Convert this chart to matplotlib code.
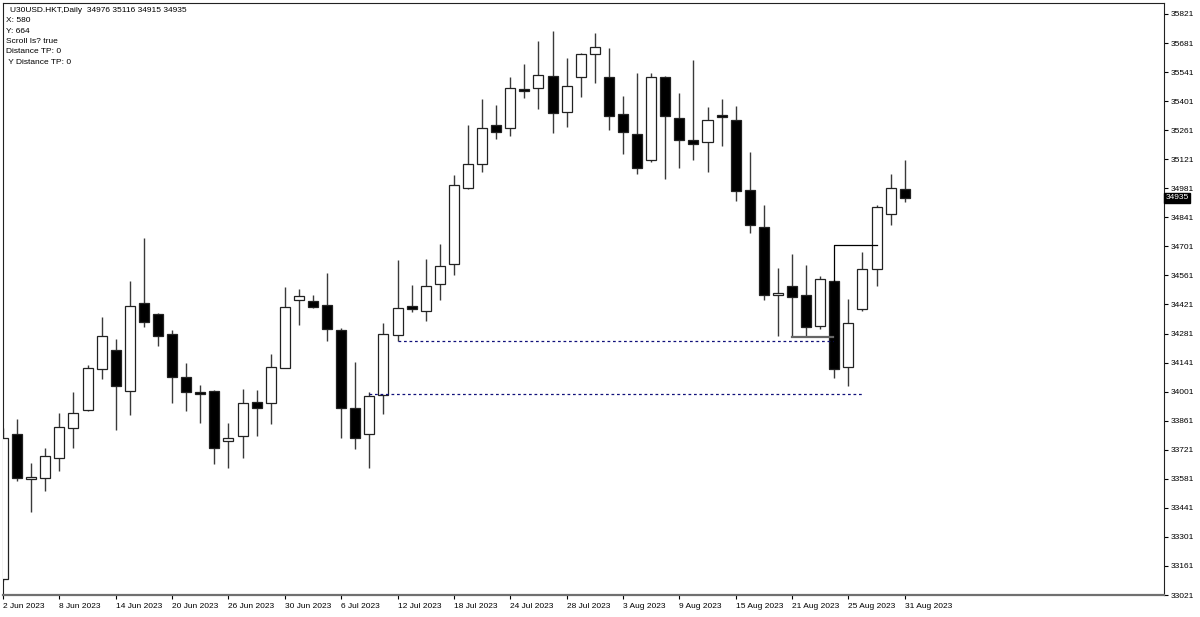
import matplotlib
matplotlib.use("Agg")
import matplotlib.pyplot as plt
import matplotlib.transforms as mtransforms

# daily candles, 2 Jun 2023 .. 31 Aug 2023 (one per weekday)
opens = [33098, 33799, 33580, 33587, 33682, 33826, 33914, 34110, 34201, 34002,
         34429, 34374, 34280, 34073, 34001, 34004, 33762, 33785, 33953, 33945,
         34116, 34442, 34437, 34418, 34297, 33921, 33796, 33985, 34272, 34416,
         34392, 34522, 34617, 34982, 35098, 35286, 35273, 35459, 35466, 35523,
         35348, 35516, 35627, 35519, 35337, 35244, 35115, 35515, 35321, 35212,
         35204, 35334, 35311, 34973, 34795, 34466, 34512, 34466, 34317, 34533,
         34119, 34397, 34593, 34857, 34976]
highs = [33824, 33871, 33655, 33728, 33897, 34001, 34128, 34362, 34253, 34532,
         34742, 34378, 34297, 34140, 34031, 34008, 33849, 34012, 34007, 34184,
         34504, 34496, 34469, 34574, 34309, 34143, 34001, 34333, 34633, 34517,
         34638, 34713, 35046, 35286, 35412, 35382, 35516, 35579, 35690, 35739,
         35608, 35632, 35731, 35656, 35426, 35536, 35536, 35523, 35442, 35600,
         35375, 35412, 35378, 35156, 34899, 34598, 34662, 34613, 34557, 34540,
         34448, 34675, 34899, 35050, 35116]
lows = [33088, 33571, 33422, 33523, 33619, 33731, 33908, 34062, 33816, 33888,
        34314, 34220, 33948, 33908, 33852, 33651, 33635, 33682, 33785, 33847,
        34113, 34321, 34402, 34244, 33780, 33727, 33635, 33892, 34244, 34386,
        34341, 34445, 34562, 34978, 35059, 35218, 35231, 35418, 35363, 35247,
        35276, 35423, 35490, 35260, 35144, 35050, 35110, 35026, 35077, 35119,
        35058, 35183, 34921, 34766, 34445, 34268, 34264, 34264, 34301, 34068,
        34028, 34389, 34512, 34802, 34915]
closes = [33776, 33584, 33592, 33691, 33831, 33897, 34116, 34267, 34028, 34415,
          34339, 34270, 34073, 33999, 33991, 33731, 33776, 33948, 33924, 34119,
          34408, 34464, 34410, 34304, 33924, 33780, 33980, 34277, 34403, 34397,
          34509, 34605, 34997, 35099, 35273, 35250, 35466, 35452, 35526, 35343,
          35476, 35629, 35664, 35329, 35253, 35077, 35515, 35330, 35212, 35196,
          35310, 35324, 34966, 34806, 34469, 34477, 34458, 34312, 34543, 34108,
          34330, 34593, 34891, 34982, 34935]

date_labels = ["2 Jun 2023", "8 Jun 2023", "14 Jun 2023", "20 Jun 2023", "26 Jun 2023",
               "30 Jun 2023", "6 Jul 2023", "12 Jul 2023", "18 Jul 2023", "24 Jul 2023",
               "28 Jul 2023", "3 Aug 2023", "9 Aug 2023", "15 Aug 2023", "21 Aug 2023",
               "25 Aug 2023", "31 Aug 2023"]
price_ticks = [33021 + 140 * k for k in range(21)]

# drawn objects on the chart
dotted_levels = [34246, 33991]
dotted_spans = [(28, 58.9), (26, 61.0)]
gray_level = 34264
black_level = 34710

info_lines = ["X: 580", "Y: 664", "Scroll Is? true", "Distance TP: 0", " Y Distance TP: 0"]

W, H = 1200, 617
fig = plt.figure(figsize=(W / 100, H / 100), dpi=100)
x0, x1, ytop, ybot = 2.5, 1164, 2.7, 595
ax = fig.add_axes([x0 / W, (H - ybot) / H, (x1 - x0) / W, (ybot - ytop) / H])

step = 14.09
ax.set_xlim((x0 - 3) / step, (x1 - 3) / step)
ppx = 4.811
ax.set_ylim(35821 - (ybot - 14) * ppx, 35821 + (14 - ytop) * ppx)

n = len(opens)
idx = list(range(n))
ax.vlines(idx, lows, highs, color="#3a3a3a", linewidth=1.0, zorder=2)
for i in idx:
    o, c = opens[i], closes[i]
    bull = c >= o
    ax.bar(i, max(abs(c - o), 1), bottom=min(o, c), width=0.71,
           color="white" if bull else "black", edgecolor="#222222",
           linewidth=0.9, zorder=3)

for lvl, (a, b) in zip(dotted_levels, dotted_spans):
    ax.plot([a, b], [lvl, lvl], color="#10107a", linewidth=0.9,
            dashes=(2.2, 2.2), zorder=4)

ax.plot([56, 58.9], [gray_level, gray_level], color="#666666", linewidth=1.6, zorder=4)
ax.plot([59, 59, 62], [opens[59], black_level, black_level], color="black",
        linewidth=0.9, zorder=4)

ax.set_xticks(list(range(0, n, 4)))
ax.set_xticklabels(date_labels, ha="left", fontsize=6, family="Liberation Sans")
ax.set_yticks(price_ticks)
ax.set_yticklabels([str(p) for p in price_ticks], fontsize=6, family="Liberation Sans")
ax.yaxis.tick_right()
ax.tick_params(axis="both", direction="out", length=3, width=0.8, pad=2, colors="black")
ax.tick_params(axis="x", pad=3)

for side in ["left", "top", "right"]:
    ax.spines[side].set_color("#222222")
    ax.spines[side].set_linewidth(0.8)
ax.spines["bottom"].set_color("#707070")
ax.spines["bottom"].set_linewidth(1.6)

trans = mtransforms.blended_transform_factory(ax.transAxes, ax.transData)
ax.text(1.0015, closes[-1], str(closes[-1]), transform=trans, fontsize=6,
        family="Liberation Sans", color="white", va="center", ha="left",
        bbox=dict(facecolor="black", edgecolor="black", boxstyle="square,pad=0.15"),
        zorder=10, clip_on=False)

fig.text(10 / W, 1 - 10 / H, "U30USD.HKT,Daily  %d %d %d %d" % (opens[-1], highs[-1], lows[-1], closes[-1]),
         fontsize=6, family="Liberation Sans", va="center", ha="left")
for k, line in enumerate(info_lines):
    fig.text(6 / W, 1 - (21 + 10.3 * k) / H, line, fontsize=6,
             family="Liberation Sans", va="center", ha="left")

fig.savefig("out.png", dpi=100)
